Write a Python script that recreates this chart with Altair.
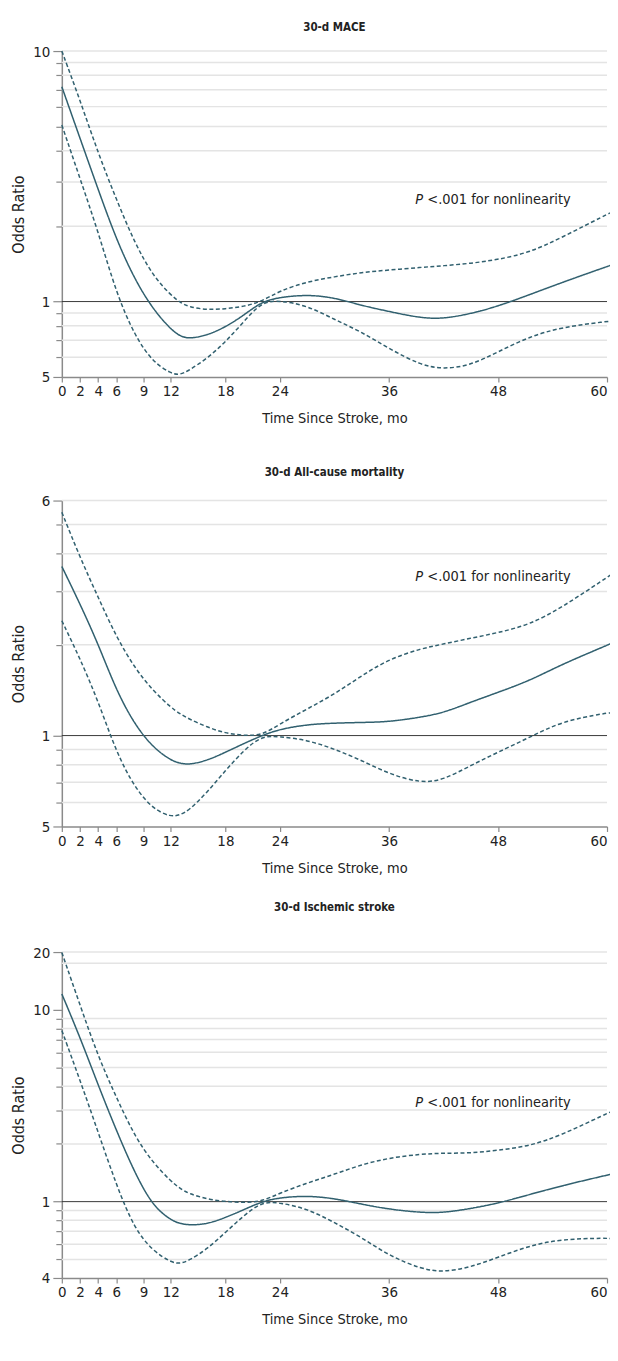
import altair as alt
import pandas as pd

FONT = "Liberation Sans Narrow, DejaVu Sans Condensed, Roboto, sans-serif"
LINE = "#31606f"

months = [0, 2, 4, 6, 8, 10, 12, 13, 14, 16, 18, 20, 22, 24, 27, 30, 33, 36, 39.5, 42, 45, 48, 51.5, 55, 60, 60.8]

mace_or = [7.2, 4.49, 2.80, 1.77, 1.23, 0.935, 0.774, 0.728, 0.71, 0.733, 0.791, 0.88, 1.0, 1.04, 1.066, 1.037,
           0.964, 0.913, 0.859, 0.854, 0.894, 0.958, 1.066, 1.19, 1.38, 1.41]
mace_hi = [10.0, 6.37, 3.91, 2.56, 1.72, 1.27, 1.06, 0.994, 0.95, 0.927, 0.935, 0.955, 1.0, 1.106, 1.2, 1.256,
           1.307, 1.336, 1.369, 1.39, 1.42, 1.47, 1.57, 1.80, 2.23, 2.30]
mace_lo = [5.07, 3.1, 1.9, 1.08, 0.733, 0.574, 0.516, 0.509, 0.532, 0.592, 0.69, 0.828, 1.0, 1.01, 0.964, 0.848,
           0.756, 0.649, 0.557, 0.537, 0.556, 0.63, 0.725, 0.79, 0.833, 0.838]

mort_or = [3.63, 2.73, 2.01, 1.41, 1.09, 0.915, 0.827, 0.81, 0.80, 0.827, 0.88, 0.94, 1.0, 1.05, 1.088, 1.10,
           1.105, 1.11, 1.15, 1.19, 1.29, 1.39, 1.52, 1.72, 1.99, 2.04]
mort_hi = [5.49, 3.89, 2.87, 2.12, 1.68, 1.41, 1.24, 1.18, 1.135, 1.066, 1.018, 1.0, 1.0, 1.093, 1.225, 1.37,
           1.58, 1.79, 1.94, 2.01, 2.10, 2.19, 2.33, 2.65, 3.34, 3.47]
mort_lo = [2.40, 1.80, 1.30, 0.88, 0.674, 0.572, 0.537, 0.546, 0.565, 0.649, 0.766, 0.892, 1.0, 0.992, 0.967, 0.903,
           0.827, 0.747, 0.695, 0.713, 0.796, 0.881, 0.987, 1.115, 1.19, 1.19]

strk_or = [12.1, 7.2, 4.05, 2.35, 1.42, 0.95, 0.80, 0.769, 0.754, 0.763, 0.826, 0.906, 1.0, 1.05, 1.074, 1.04,
           0.969, 0.913, 0.877, 0.875, 0.92, 0.98, 1.09, 1.21, 1.375, 1.40]
strk_hi = [19.9, 10.6, 5.7, 3.5, 2.2, 1.6, 1.28, 1.17, 1.10, 1.03, 1.0, 0.99, 1.0, 1.11, 1.25, 1.39,
           1.56, 1.69, 1.77, 1.79, 1.79, 1.85, 1.95, 2.22, 2.89, 2.98]
strk_lo = [7.8, 4.3, 2.3, 1.22, 0.72, 0.555, 0.483, 0.474, 0.493, 0.566, 0.691, 0.843, 1.0, 0.988, 0.92, 0.778,
           0.651, 0.523, 0.446, 0.428, 0.455, 0.513, 0.59, 0.638, 0.646, 0.64]

titles = ["30-d MACE", "30-d All-cause mortality", "30-d Ischemic stroke"]
title_gap = [11, 15, 32]
y_domains = [[0.5, 10], [0.5, 6], [0.4, 20]]
y_ticks = [
    [0.5, 0.6, 0.7, 0.8, 0.9, 1, 2, 3, 4, 5, 6, 7, 8, 9, 10],
    [0.5, 0.6, 0.7, 0.8, 0.9, 1, 2, 3, 4, 5, 6],
    [0.4, 0.5, 0.6, 0.7, 0.8, 0.9, 1, 2, 3, 4, 5, 6, 7, 8, 9, 10, 20],
]
y_label_values = [[0.5, 1, 10], [0.5, 1, 6], [0.4, 1, 10, 20]]
y_label_texts = [["5", "1", "10"], ["5", "1", "6"], ["4", "1", "10", "20"]]
grid_values = [
    [0.6, 0.7, 0.8, 0.9, 2, 3, 4, 5, 6, 7, 8, 9, 10],
    [0.6, 0.7, 0.8, 0.9, 2, 3, 4, 5, 6],
    [0.5, 0.6, 0.7, 0.8, 0.9, 2, 3, 4, 5, 6, 7, 8, 9, 17.5, 20],
]
x_ticks = [0, 2, 4, 6, 9, 12, 18, 24, 36, 48, 60]
annot_month = 38.9
annot_or = [2.55, 3.36, 3.28]

series = [(mace_or, mace_hi, mace_lo), (mort_or, mort_hi, mort_lo), (strk_or, strk_hi, strk_lo)]


def panel(i):
    est, hi, lo = series[i]
    rows = []
    for band, vals in (("est", est), ("upper", hi), ("lower", lo)):
        for m, v in zip(months, vals):
            rows.append({"month": m, "or": v, "band": band})
    df = pd.DataFrame(rows)

    expr = " : ".join(
        f"datum.value == {v} ? '{t}'" for v, t in zip(y_label_values[i], y_label_texts[i])
    ) + " : ''"
    major_test = " || ".join(f"datum.value == {v}" for v in y_label_values[i])

    xs = alt.Scale(domain=[0, 60], nice=False, zero=False)
    ys = alt.Scale(type="log", domain=y_domains[i], nice=False, zero=False)

    x_enc = alt.X(
        "month:Q", scale=xs,
        axis=alt.Axis(values=x_ticks, title="Time Since Stroke, mo", grid=False, tickSize=5,
                      labelPadding=2, titlePadding=13, labelFlush=False,
                      labelAlign={"condition": {"test": f"datum.value == {x_ticks[-1]}", "value": "right"},
                                  "value": "center"}),
    )
    y_axis = alt.Axis(
        values=y_ticks[i], labelExpr=expr, title="Odds Ratio", grid=False,
        tickSize={"condition": {"test": major_test, "value": 9}, "value": 6},
        labelPadding=3, titlePadding=6, minExtent=29, maxExtent=29, titleFontSize=16,
    )

    grid = alt.Chart(pd.DataFrame({"g": grid_values[i]})).mark_rule(
        color="#e4e4e4", strokeWidth=1.5
    ).encode(y=alt.Y("g:Q", scale=ys, axis=y_axis))

    ref = alt.Chart(pd.DataFrame({"r": [1]})).mark_rule(color="#3a3a3a", strokeWidth=1).encode(
        y=alt.Y("r:Q", scale=ys)
    )

    lines = alt.Chart(df).mark_line(color=LINE, strokeWidth=1.5, interpolate="basis").encode(
        x=x_enc,
        y=alt.Y("or:Q", scale=ys),
        detail="band:N",
        strokeDash=alt.StrokeDash(
            "band:N",
            scale=alt.Scale(domain=["est", "upper", "lower"], range=[[1, 0], [4, 2.5], [4, 2.5]]),
            legend=None,
        ),
    )

    adf = pd.DataFrame({"month": [annot_month], "or": [annot_or[i]]})
    p_txt = alt.Chart(adf).mark_text(
        text="P", align="left", baseline="middle", fontStyle="italic", fontSize=14.5, font=FONT, color="#222"
    ).encode(x=alt.X("month:Q", scale=xs), y=alt.Y("or:Q", scale=ys))
    rest_txt = alt.Chart(adf).mark_text(
        text="<.001 for nonlinearity", align="left", baseline="middle", dx=12, fontSize=14.5, font=FONT, color="#222"
    ).encode(x=alt.X("month:Q", scale=xs), y=alt.Y("or:Q", scale=ys))

    return alt.layer(grid, ref, lines, p_txt, rest_txt).properties(
        width=547, height=327,
        title=alt.TitleParams(titles[i], fontSize=11.5, fontWeight="bold", font=FONT,
                              offset=title_gap[i], color="#222"),
    )


lower_pair = alt.vconcat(panel(1), panel(2), spacing=26)
chart = alt.vconcat(panel(0), lower_pair, spacing=41).properties(
    padding={"left": 3, "top": 11, "right": -8, "bottom": 0}
).configure_view(stroke=None).configure_axis(
    domainColor="#8a8a8a", domainWidth=1.5, tickColor="#8a8a8a", tickWidth=1.2,
    labelFont=FONT, titleFont=FONT, labelFontSize=15, titleFontSize=14.5,
    labelColor="#222", titleColor="#222", titleFontWeight="normal",
)

chart.save("out.html", embed_options={"renderer": "svg", "actions": False})
